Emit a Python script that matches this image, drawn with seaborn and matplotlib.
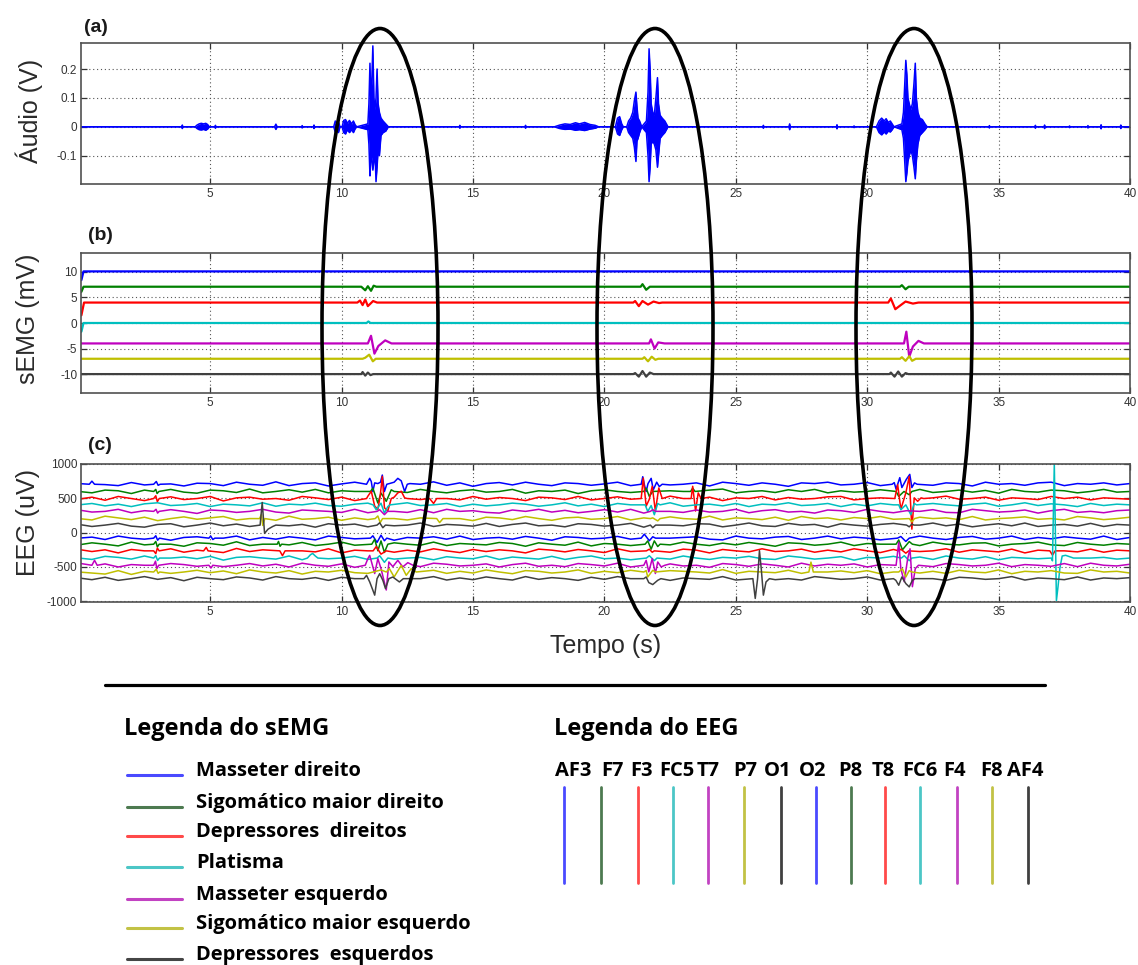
import numpy as np
import pandas as pd
import matplotlib
matplotlib.use("Agg")
import matplotlib.pyplot as plt
from matplotlib.patches import Ellipse
from matplotlib.lines import Line2D
import seaborn as sns

# ---------------------------------------------------------------- data
x_ticks = [5, 10, 15, 20, 25, 30, 35, 40]

# audio envelope bursts: (time s, upper V, lower V)
audio_bursts = [
    [(3.92, 0, 0), (3.94, 0.006, -0.006), (3.96, 0, 0)],
    [(4.43, 0, 0), (4.50, 0.006, -0.006), (4.58, 0.010, -0.010), (4.66, 0.012, -0.011),
     (4.75, 0.010, -0.009), (4.83, 0.012, -0.012), (4.90, 0.008, -0.008), (4.97, 0, 0)],
    [(5.18, 0, 0), (5.20, 0.005, -0.005), (5.22, 0, 0)],
    [(7.45, 0, 0), (7.50, 0.009, -0.009), (7.55, 0, 0)],
    [(8.48, 0, 0), (8.50, 0.004, -0.004), (8.52, 0, 0)],
    [(8.93, 0, 0), (8.95, 0.006, -0.006), (8.97, 0, 0)],
    [(9.70, 0, 0), (9.76, 0.020, -0.018), (9.82, 0.012, -0.010), (9.88, 0.018, -0.020), (9.94, 0, 0)],
    [(10.02, 0, 0), (10.08, 0.022, -0.020), (10.15, 0.025, -0.025), (10.22, 0.012, -0.010),
     (10.30, 0.022, -0.020), (10.38, 0.010, -0.010), (10.45, 0.020, -0.020), (10.52, 0.006, -0.006),
     (10.58, 0, 0)],
    [(11.00, 0.010, -0.010), (11.04, 0.080, -0.060), (11.08, 0.220, -0.170), (11.11, 0.100, -0.120),
     (11.15, 0.160, -0.100), (11.19, 0.280, -0.150), (11.23, 0.100, -0.120), (11.27, 0.060, -0.080),
     (11.31, 0.100, -0.190), (11.35, 0.200, -0.140), (11.39, 0.080, -0.080), (11.44, 0.050, -0.100),
     (11.50, 0.030, -0.030), (11.58, 0.020, -0.020), (11.68, 0.010, -0.015), (11.78, 0, 0)],
    [(14.48, 0, 0), (14.50, 0.005, -0.005), (14.52, 0, 0)],
    [(16.98, 0, 0), (17.00, 0.005, -0.005), (17.02, 0, 0)],
    [(18.10, 0, 0), (18.30, 0.006, -0.006), (18.50, 0.010, -0.009), (18.70, 0.008, -0.008),
     (18.90, 0.014, -0.012), (19.05, 0.010, -0.010), (19.25, 0.015, -0.013), (19.45, 0.008, -0.008),
     (19.65, 0.005, -0.005), (19.78, 0, 0)],
    [(20.42, 0, 0), (20.50, 0.030, -0.025), (20.58, 0.035, -0.030), (20.66, 0.010, -0.010), (20.72, 0, 0)],
    [(20.85, 0, 0), (20.92, 0.020, -0.020), (21.00, 0.030, -0.030), (21.08, 0.050, -0.040),
     (21.14, 0.090, -0.070), (21.20, 0.120, -0.120), (21.24, 0.070, -0.050), (21.28, 0.030, -0.040),
     (21.34, 0.020, -0.020), (21.42, 0, 0)],
    [(21.60, 0.020, -0.020), (21.66, 0.120, -0.100), (21.70, 0.270, -0.190), (21.74, 0.200, -0.140),
     (21.78, 0.080, -0.060), (21.84, 0.050, -0.050), (21.90, 0.040, -0.060), (21.96, 0.100, -0.080),
     (22.02, 0.170, -0.140), (22.06, 0.080, -0.100), (22.12, 0.040, -0.040), (22.20, 0.030, -0.030),
     (22.30, 0.020, -0.020), (22.42, 0, 0)],
    [(26.03, 0, 0), (26.05, 0.005, -0.005), (26.07, 0, 0)],
    [(27.02, 0, 0), (27.05, 0.010, -0.010), (27.08, 0, 0)],
    [(28.83, 0, 0), (28.85, 0.007, -0.007), (28.87, 0, 0)],
    [(29.48, 0, 0), (29.50, 0.003, -0.003), (29.52, 0, 0)],
    [(30.35, 0, 0), (30.45, 0.020, -0.020), (30.55, 0.030, -0.028), (30.65, 0.020, -0.018),
     (30.72, 0.028, -0.025), (30.80, 0.015, -0.015), (30.88, 0.020, -0.018), (30.95, 0.010, -0.010),
     (31.02, 0, 0)],
    [(31.32, 0.010, -0.010), (31.38, 0.050, -0.040), (31.43, 0.150, -0.120), (31.47, 0.230, -0.190),
     (31.51, 0.180, -0.160), (31.55, 0.100, -0.120), (31.60, 0.080, -0.100), (31.66, 0.060, -0.080),
     (31.72, 0.080, -0.100), (31.78, 0.150, -0.140), (31.83, 0.220, -0.180), (31.87, 0.100, -0.120),
     (31.93, 0.050, -0.060), (32.00, 0.030, -0.030), (32.10, 0.025, -0.020), (32.20, 0.010, -0.010),
     (32.28, 0, 0)],
    [(34.63, 0, 0), (34.65, 0.004, -0.004), (34.67, 0, 0)],
    [(36.38, 0, 0), (36.40, 0.005, -0.005), (36.42, 0, 0)],
    [(36.73, 0, 0), (36.75, 0.006, -0.006), (36.77, 0, 0)],
    [(37.68, 0, 0), (37.70, 0.003, -0.003), (37.72, 0, 0)],
    [(38.38, 0, 0), (38.40, 0.004, -0.004), (38.42, 0, 0)],
    [(38.88, 0, 0), (38.90, 0.007, -0.007), (38.92, 0, 0)],
    [(39.63, 0, 0), (39.65, 0.006, -0.006), (39.67, 0, 0)],
]

# sEMG channels (mV): names, colours, baselines and excursions (time s, deviation mV)
emg_names = ["Masseter direito", "Sigomático maior direito", "Depressores  direitos", "Platisma",
             "Masseter esquerdo", "Sigomático maior esquerdo", "Depressores  esquerdos"]
emg_colors = ["#0000ff", "#008000", "#ff0000", "#00bfbf", "#bf00bf", "#bfbf00", "#404040"]
emg_legend_colors = ["#4a4aff", "#4d7a50", "#ff4a4a", "#4cc6c6", "#c243c2", "#c2c245", "#454545"]
emg_base = [10.1, 7.1, 4.0, 0.0, -4.0, -7.0, -10.0]
emg_events = [
    [[(0.10, -1.7), (0.18, 0)]],
    [[(0.10, -1.0), (0.18, 0)],
     [(10.75, 0), (10.90, -0.7), (11.00, 0.1), (11.12, -0.8), (11.22, 0.2), (11.32, 0)],
     [(21.38, 0), (21.45, 0.5), (21.59, -0.6), (21.73, 0)],
     [(31.25, 0), (31.32, 0.3), (31.46, -0.5), (31.58, 0)]],
    [[(0.10, -2.5), (0.20, 0)],
     [(10.60, 0), (10.70, 0.4), (10.80, -0.5), (10.90, 0.6), (11.00, -0.7), (11.10, -0.2), (11.20, 0.3), (11.35, 0)],
     [(21.10, 0), (21.17, 0.3), (21.31, -0.7), (21.45, 0.3), (21.66, -0.4), (21.87, 0.2), (22.08, -0.1), (22.20, 0)],
     [(30.80, 0), (30.90, 0.8), (31.07, -1.3), (31.25, -0.6), (31.46, 0.2), (31.74, -0.2), (31.95, 0)]],
    [[(0.10, -1.7), (0.18, 0)],
     [(10.95, 0), (11.02, 0.3), (11.10, 0)]],
    [[(11.00, 0), (11.12, 1.5), (11.25, -2.0), (11.40, -0.5), (11.66, 0.6), (11.90, 0)],
     [(21.70, 0), (21.77, 0.8), (21.91, -1.0), (22.05, 0.2), (22.29, 0)],
     [(31.40, 0), (31.49, 2.3), (31.60, -2.6), (31.74, -0.6), (31.95, 0.5), (32.16, 0)]],
    [[(10.80, 0), (10.90, 0.2), (11.05, 0.8), (11.19, -0.5), (11.30, 0)],
     [(21.45, 0), (21.52, 0.3), (21.66, -0.5), (21.80, 0.4), (21.94, -0.2), (22.05, 0)],
     [(31.25, 0), (31.32, 0.3), (31.46, -0.4), (31.60, 0.5), (31.71, -0.4), (31.85, 0)]],
    [[(10.75, 0), (10.80, 0.4), (10.90, -0.3), (11.00, 0.3), (11.10, -0.2), (11.20, 0)],
     [(21.10, 0), (21.17, 0.2), (21.31, -0.5), (21.45, 0.6), (21.59, -0.5), (21.73, 0.3), (21.87, 0)],
     [(30.85, 0), (30.90, 0.3), (31.04, -0.5), (31.18, 0.5), (31.32, -0.5), (31.46, 0.2), (31.56, 0)]],
]

# EEG channels (uV)
eeg_names = ["AF3", "F7", "F3", "FC5", "T7", "P7", "O1", "O2", "P8", "T8", "FC6", "F4", "F8", "AF4"]
eeg_colors = ["#0000ff", "#008000", "#ff0000", "#00bfbf", "#bf00bf", "#bfbf00", "#404040",
              "#0000ff", "#008000", "#ff0000", "#00bfbf", "#bf00bf", "#bfbf00", "#404040"]
eeg_legend_colors = ["#4a4aff", "#4d7a50", "#ff4a4a", "#4cc6c6", "#c243c2", "#c2c245", "#404040",
                     "#4a4aff", "#4d7a50", "#ff4a4a", "#4cc6c6", "#c243c2", "#c2c245", "#404040"]
eeg_base = [705, 600, 497, 405, 310, 205, 110, -80, -168, -265, -370, -475, -573, -670]

# background activity of each channel, every 0.5 s from 0 to 40 s (uV)
eeg_wiggle = {
    "AF3": [10, 40, -5, -20, 25, -10, 35, 5, -25, 15, 10, -20, 30, 0, -15, 35, -20, 10, 20, -25, 5, 30, -10, 20,
            -20, 10, 0, 35, -15, 20, -30, 10, 25, -10, 30, 0, -20, 20, 10, -15, 5, 30, -20, 10, 35, -10, 0, 20,
            -25, 30, 10, -15, 20, 0, -30, 20, 10, 30, -10, 0, 25, -20, 10, 35, 0, -15, 20, 10, -25, 30, 0, 10,
            -15, 20, 30, -20, 10, 0, 20, -10, 10],
    "F7": [0, -20, 20, 10, -30, 20, 0, 30, -10, -25, 20, 10, -15, 35, -20, 0, 25, -10, 30, -20, 10, 0, -30, 20,
           10, -15, 30, 0, -20, 10, 25, -10, 0, 30, -25, 10, 0, 20, -30, 10, 25, 0, -15, 30, -20, 10, 0, -10, 20,
           35, -20, 0, 10, -15, 25, 0, 30, -20, 10, -10, 0, 25, -20, 10, 30, -15, 0, 20, -10, 15, -25, 30, 0,
           -10, 20, 10, -20, 0, 30, -10, 0],
    "F3": [-10, 20, -25, 30, 0, -30, 10, 25, -15, 0, 30, -35, 10, 20, -10, 0, -25, 30, 10, -15, 20, -30, 0, 35,
           -20, 10, -15, 25, 0, -20, 30, -10, 15, 0, -30, 20, 10, -15, 30, -20, 0, 25, -10, 10, -25, 35, 0, -10,
           20, -30, 10, 0, 30, -20, 15, -10, 0, 25, 30, -20, 0, 10, -15, 20, -30, 10, 35, -10, 0, 20, -25, 10,
           0, -15, 30, 0, 20, -20, 10, 0, -10],
    "FC5": [0, 20, -15, 10, -25, 15, 30, -10, 0, 20, -25, 10, 0, -15, 30, -20, 10, 0, 25, -10, -20, 10, 25, 0,
            -15, 30, -10, 0, 20, -25, 10, -15, 0, 25, 10, -20, 0, 30, -15, 10, -25, 20, 0, -10, 15, 30, -20, 0,
            10, -15, 20, -25, 10, 0, 30, -10, 0, 20, -25, 10, -15, 20, 0, 10, -30, 20, 0, -15, 10, 25, -20, 0,
            30, -10, 15, 0, -25, 20, -10, 10, 0],
    "T7": [20, -10, 0, 30, -20, 10, -15, 25, 0, -30, 20, 10, -15, 0, 30, -10, -25, 20, 10, 0, -15, 30, -20, 10,
           0, -15, 25, -20, 30, 0, 10, -15, -25, 20, 0, 30, -10, 15, -20, 0, 25, -10, 30, -25, 10, 0, -15, 20,
           -10, 0, 30, -20, 10, 25, -10, 0, -25, 20, 10, -15, 30, 0, -20, 10, 0, 25, -15, -20, 30, 10, -10, 0,
           20, -25, 10, 30, -15, 0, -20, 10, 20],
    "P7": [0, -20, 35, 10, -15, 20, -30, 0, 25, -10, 10, 30, -20, 0, 15, -25, 35, -10, 0, 20, -25, 10, -15, 30,
           0, -20, 10, 25, -10, 0, -30, 20, 10, -15, 30, 0, -25, 10, 20, -10, 0, 30, -20, 10, -15, 25, 0, -10,
           35, -20, 10, 0, -15, 20, -25, 30, 0, 10, -20, 15, 0, 30, -10, -25, 20, 0, 10, -15, 30, -20, 0, 10,
           25, -10, 0, -20, 30, 10, -15, 0, 20],
    "O1": [10, -20, 0, 25, -15, -30, 10, 20, -25, 0, 30, -10, 15, -20, 0, 25, -10, 10, -30, 20, 0, 15, -25, 20,
           -10, 0, 30, -20, 10, 0, -15, 25, -20, 10, 30, -10, 0, -25, 20, 10, -15, 0, 25, -30, 10, 0, -10, 20,
           15, -25, 0, 30, -10, -20, 25, 0, 10, -30, 20, 0, -15, 10, 25, -20, 0, 30, -10, 15, -25, 0, 20, -10,
           30, -20, 0, 10, -15, 25, -20, 10, 0],
    "O2": [0, 15, -20, 30, 0, -15, 25, -30, 10, 20, -10, 0, 30, -25, 10, -15, 20, 0, -25, 30, 10, -10, 0, 25,
           -30, 10, 0, 20, -15, 30, -20, 0, 10, -15, 25, 0, -30, 20, 10, -10, 0, 25, -15, 30, -20, 0, 10, 20,
           -15, -25, 30, 0, -10, 15, 25, -20, 0, 30, -10, 15, 0, -25, 20, -10, 30, 0, -20, 10, 25, -15, 0, 30,
           -20, 10, -10, 20, 0, -15, 30, -20, 10],
    "P8": [-10, 20, 0, -25, 30, -10, 15, 0, -30, 20, 10, -15, 35, -20, 0, 15, -10, 25, -20, 0, 30, -15, 10, -25,
           20, 0, -15, 30, -20, 10, 0, -10, 25, 10, -30, 20, 0, -15, 30, -25, 10, 0, -20, 25, 10, -10, 30, 0,
           -20, 15, -10, 25, 0, -30, 20, 10, -15, 0, 30, -20, 10, 0, -15, 25, -20, 30, 0, -10, 15, 20, -25, 0,
           10, 30, -10, -20, 25, 0, -15, 10, 0],
    "T8": [20, -10, 15, -30, 20, 0, -15, 30, -20, 10, 0, -25, 35, -10, 15, -20, 25, 0, -15, 30, -30, 10, 0, 25,
           -20, 10, -15, 30, 0, -25, 20, -10, 15, 0, -30, 25, 10, -15, 20, 0, -25, 30, -10, 15, 0, -20, 25, 10,
           -30, 20, 0, -15, 30, -10, 0, 25, -20, 10, -15, 30, 0, -25, 20, 10, -10, 0, 30, -20, 15, 0, -15, 25,
           -30, 10, 20, 0, -15, 25, -20, 10, 0],
    "FC6": [0, -20, 25, 10, -15, 30, -20, 0, 15, -10, 25, -30, 10, 20, 0, -15, 30, -25, 10, -10, 0, 25, -20, 30,
            -15, 0, 10, -25, 20, 0, -10, 30, -20, 15, 0, -15, 25, -20, 10, 30, -10, 0, -25, 20, 10, -15, 30, 0,
            -20, 10, 0, 25, -10, -20, 30, 10, -15, 0, 20, -30, 10, 0, 25, -10, 15, -20, 30, 0, -15, 20, -25, 10,
            0, -10, 25, 30, -20, 0, 10, -15, 0],
    "F4": [30, -10, 20, -25, 10, 0, -30, 25, 10, -15, 30, -20, 0, 25, -10, 15, -25, 30, 0, -15, 20, -30, 10, 0,
           25, -10, -20, 30, 15, -10, 0, 20, -25, 10, 30, -15, 0, -20, 25, 10, -10, 30, -25, 0, 15, 20, -10, 0,
           -30, 25, 10, -15, 20, 0, -25, 30, -10, 15, 0, 20, -25, 10, 30, -15, 0, -20, 25, 10, -10, 0, 30, -20,
           10, 0, -15, 25, -20, 30, 0, -10, 15],
    "F8": [0, -15, -30, 20, -35, 10, 30, -20, 0, 25, -10, 15, -25, 30, 0, -15, 20, -30, 10, 0, 25, -10, -20, 30,
           -15, 10, 0, 25, -20, 10, -15, 30, 0, -25, 20, 10, -15, 0, 30, -20, 10, -10, 25, 0, -30, 20, 10, 0,
           -15, 35, -20, 10, 0, -10, 25, -20, 30, 0, 15, -10, 20, -25, 0, 30, -15, 10, -20, 25, 0, -10, 30, -25,
           10, 0, 20, -15, -20, 30, 0, 10, -15],
    "AF4": [10, -15, 20, -25, 0, 30, -10, 15, -30, 20, 0, -15, 25, 10, -20, 30, 0, -10, 15, -25, 20, 0, -30, 10,
            25, -10, 0, 30, -20, 10, -15, 25, 0, -20, 30, -10, 15, 0, -25, 20, -10, 30, 0, -15, 20, -25, 10, 0,
            -10, 30, -20, 10, 25, -15, 0, -20, 30, 10, -10, 0, 25, -20, 10, -15, 30, 0, -25, 20, 10, -10, 0, 30,
            -20, 10, 0, -15, 25, -20, 10, 0, 15],
}

# transient events of each EEG channel: runs of (time s, deviation uV)
eeg_events = {
    "AF3": [[(0.40, 0), (0.50, 45), (0.60, 0)],
            [(2.85, 0), (2.95, 40), (3.02, -15), (3.10, 0)],
            [(10.95, 0), (11.07, 86), (11.13, 40), (11.19, -106), (11.26, 20), (11.38, 10), (11.48, 30),
             (11.55, 134), (11.63, -106), (11.72, 0), (11.82, 10), (12.00, 30), (12.14, 86), (12.27, 50),
             (12.40, -106), (12.50, 0), (12.60, 10)],
            [(21.40, 0), (21.46, 110), (21.53, -20), (21.59, -106), (21.66, 10), (21.78, 86), (21.86, -82),
             (21.99, 30), (22.09, -34), (22.20, 0)],
            [(30.95, 0), (31.03, 24), (31.10, -72), (31.24, 96), (31.32, -48), (31.49, 72), (31.62, 144),
             (31.70, -48), (31.80, 20), (31.90, 0)]],
    "F7": [[(2.85, 0), (2.93, 30), (2.98, -30), (3.05, 0)],
           [(11.10, 0), (11.19, 48), (11.38, -168), (11.50, -24), (11.70, -144), (11.89, 24), (12.00, 0)],
           [(21.50, 0), (21.59, 48), (21.71, -72), (21.84, 0)],
           [(23.28, 0), (23.36, 48), (23.45, 0)],
           [(31.10, 0), (31.20, -72), (31.40, 0), (31.60, -48), (31.70, 0)]],
    "F3": [[(2.85, 0), (2.93, 40), (2.99, -45), (3.06, 0)],
           [(10.95, 0), (11.00, 34), (11.13, 106), (11.26, -110), (11.38, -158), (11.47, 40), (11.55, 322),
            (11.63, -134), (11.76, -182), (11.89, 0), (12.00, 20), (12.14, 82), (12.27, 106), (12.40, 10),
            (12.50, 0)],
           [(13.35, 0), (13.50, -72), (13.62, 0)],
           [(21.40, 0), (21.48, 298), (21.59, -110), (21.71, -10), (21.82, 178), (21.94, -182), (22.07, 154),
            (22.20, 0)],
           [(23.30, 0), (23.36, 178), (23.47, -182), (23.57, 82), (23.68, 0)],
           [(31.05, 0), (31.16, 202), (31.28, -158), (31.47, 82), (31.60, 322), (31.70, -446), (31.79, 10),
            (31.92, -40), (32.05, 10), (32.15, 0)]],
    "FC5": [[(11.20, 0), (11.32, -72), (11.50, 24), (11.63, -120), (11.76, -24), (11.85, 0)],
            [(21.55, 0), (21.65, -96), (21.78, -10), (21.90, -144), (22.03, 20), (22.12, 0)],
            [(31.20, 0), (31.28, -72), (31.47, 0), (31.66, -144), (31.79, 20), (31.88, 0)]],
    "T7": [[(2.85, 0), (2.94, 30), (3.00, -25), (3.06, 0)],
           [(11.35, 0), (11.45, 24), (11.63, -48), (11.75, 0)],
           [(21.75, 0), (21.84, 24), (21.95, 0)]],
    "P7": [[(6.88, 0), (6.95, 60), (7.00, -100), (7.08, 0)],
           [(11.28, 0), (11.38, 38), (11.47, -58), (11.56, 0)],
           [(13.62, 0), (13.73, -58), (13.86, 0)],
           [(21.75, 0), (21.84, 10), (22.03, -34), (22.12, 0)],
           [(31.60, 0), (31.70, -48), (31.80, 0)]],
    "O1": [[(6.90, 0), (6.98, 330), (7.07, -120), (7.20, -60), (7.38, -20), (7.50, 0)],
           [(11.35, 0), (11.45, 34), (11.57, -38), (11.67, 0)],
           [(21.75, 0), (21.84, -38), (21.95, 0)],
           [(31.50, 0), (31.60, -25), (31.70, 15), (31.78, 0)]],
    "O2": [[(2.85, 0), (2.93, 35), (3.00, -30), (3.07, 0)],
           [(4.95, 0), (5.02, 30), (5.10, -20), (5.18, 0)],
           [(11.10, 0), (11.19, 34), (11.35, -62), (11.50, 43), (11.63, -38), (11.72, 0)],
           [(21.40, 0), (21.52, 58), (21.71, -38), (21.84, 20), (21.95, 0)],
           [(31.15, 0), (31.28, 24), (31.47, -48), (31.60, 0)]],
    "P8": [[(2.85, 0), (2.93, 40), (2.99, -40), (3.06, 0)],
           [(7.55, 0), (7.60, 40), (7.66, -30), (7.72, 0)],
           [(11.15, 0), (11.26, 72), (11.38, -96), (11.50, 48), (11.63, -120), (11.76, 0)],
           [(21.55, 0), (21.65, 48), (21.78, -72), (21.90, 48), (22.03, -34), (22.12, 0)],
           [(31.10, 0), (31.20, 62), (31.34, -82), (31.60, 38), (31.72, 0)]],
    "T8": [[(2.85, 0), (2.93, -40), (2.99, 40), (3.06, 0)],
           [(4.75, 0), (4.85, 50), (4.92, 0)],
           [(7.65, 0), (7.75, -70), (7.85, 0)],
           [(11.20, 0), (11.32, 62), (11.50, -48), (11.70, 0)],
           [(21.60, 0), (21.71, 24), (21.82, -20), (21.90, 0)],
           [(31.20, 0), (31.28, 24), (31.47, -34), (31.58, 0)],
           [(36.95, 0), (37.05, -62), (37.15, 0)]],
    "FC6": [[(2.85, 0), (2.93, 35), (3.00, -35), (3.07, 0)],
            [(8.70, 0), (8.82, 50), (8.90, 67), (9.00, 30), (9.10, 0)],
            [(11.35, 0), (11.45, 34), (11.63, -62), (11.76, 0)],
            [(21.60, 0), (21.71, 34), (21.90, -38), (22.00, 0)],
            [(31.30, 0), (31.41, 34), (31.60, -38), (31.70, 0)],
            [(37.00, 0), (37.05, -40), (37.12, 1380), (37.16, 400), (37.20, -620), (37.26, -420),
             (37.33, -150), (37.42, 30), (37.55, 40), (37.70, 20), (37.85, 0)]],
    "F4": [[(0.50, 0), (0.60, 72), (0.70, 0)],
           [(2.85, 0), (2.92, 60), (2.97, -50), (3.04, 0)],
           [(4.95, 0), (5.03, -40), (5.10, 0)],
           [(10.90, 0), (11.00, 96), (11.07, 144), (11.26, -120), (11.38, 96), (11.50, -48), (11.70, -360),
            (11.80, 48), (11.95, -20), (12.14, 72), (12.33, -24), (12.52, 38), (12.72, 0)],
           [(21.50, 0), (21.59, 72), (21.69, -96), (21.82, 96), (21.94, -120), (22.03, 48), (22.16, -24),
            (22.30, 0)],
           [(31.10, 0), (31.20, 336), (31.28, -48), (31.41, -240), (31.54, 96), (31.63, 240), (31.72, -312),
            (31.83, -48), (31.95, 0)]],
    "F8": [[(2.85, 0), (2.95, 40), (3.02, -20), (3.08, 0)],
           [(11.70, 0), (11.82, 48), (12.00, -72), (12.27, 96), (12.46, -48), (12.65, 48), (12.84, 0)],
           [(21.50, 0), (21.59, 20), (21.65, -72), (21.84, 24), (21.95, 0)],
           [(27.78, 0), (27.86, 144), (27.95, 0)],
           [(31.20, 0), (31.34, 48), (31.47, -72), (31.60, 20), (31.70, 0)]],
    "AF4": [[(10.85, 0), (10.95, 48), (11.07, -48), (11.19, -168), (11.26, -240), (11.35, 0), (11.45, 72),
             (11.57, -24), (11.67, -144), (11.80, 0), (11.95, 24), (12.20, -48), (12.35, 0)],
            [(21.50, 0), (21.59, 24), (21.69, -58), (21.84, -86), (22.03, -24), (22.15, 0)],
            [(25.65, 0), (25.74, -288), (25.83, 0), (25.90, 408), (25.97, 140), (26.05, -240), (26.15, -48),
             (26.28, 0)],
            [(31.00, 0), (31.09, -24), (31.20, -96), (31.32, 24), (31.47, -72), (31.60, -120), (31.72, -24),
             (31.82, 0)]],
}

# ---------------------------------------------------------------- helpers
W, H = 1138, 965


def fx(px):
    return px / W


def fy(py):
    return 1 - py / H


def build_trace(grid_vals, runs, offset, t0, t1):
    """Merge a regular background series with event runs into one sorted trace."""
    grid_t = np.linspace(t0, t1, len(grid_vals))
    grid_v = np.asarray(grid_vals, dtype=float)
    keep = np.ones(len(grid_t), bool)
    for run in runs:
        a, b = run[0][0], run[-1][0]
        keep &= ~((grid_t > a - 0.2) & (grid_t < b + 0.2))
    pts = list(zip(grid_t[keep], grid_v[keep]))
    for run in runs:
        pts += list(run)
    pts.sort(key=lambda p: p[0])
    t = np.array([p[0] for p in pts])
    v = np.array([p[1] for p in pts]) + offset
    return t, v


# ---------------------------------------------------------------- style
sns.set_style("ticks")
plt.rcParams["font.family"] = ["Liberation Sans", "DejaVu Sans"]
plt.rcParams["axes.unicode_minus"] = False

fig = plt.figure(figsize=(W / 100, H / 100), dpi=100)
LEFT, RIGHT = 81.4, 1130


def make_axes(top, bottom):
    return fig.add_axes([fx(LEFT), fy(bottom), (RIGHT - LEFT) / W, (bottom - top) / H])


def style_axes(ax, ylim, yticks, ylabels):
    ax.set_xlim(0.1, 40)
    ax.set_ylim(*ylim)
    ax.set_xticks(x_ticks)
    ax.set_xticklabels([str(v) for v in x_ticks])
    ax.set_yticks(yticks)
    ax.set_yticklabels(ylabels)
    ax.set_xlabel("")
    ax.set_ylabel("")
    ax.grid(True, linestyle=(0, (1, 2.5)), color="#555555", linewidth=0.8)
    ax.set_axisbelow(True)
    ax.tick_params(direction="in", top=True, right=True, length=4, width=0.9,
                   labelsize=8.5, labelcolor="#333333", color="#333333", pad=3)
    for s in ax.spines.values():
        s.set_color("#505050")
        s.set_linewidth(1.2)


# ---------------------------------------------------------------- (a) audio
ax_a = make_axes(43, 184)
a_t, a_hi, a_lo = [0.1], [0.0], [0.0]
for burst in audio_bursts:
    for t, hi, lo in burst:
        a_t.append(t)
        a_hi.append(hi)
        a_lo.append(lo)
a_t.append(40.0)
a_hi.append(0.0)
a_lo.append(0.0)
ax_a.fill_between(a_t, a_lo, a_hi, color="#0000ff", linewidth=0)
sns.lineplot(x=a_t, y=a_hi, ax=ax_a, color="#0000ff", lw=1.1, estimator=None, sort=False)
sns.lineplot(x=a_t, y=a_lo, ax=ax_a, color="#0000ff", lw=1.1, estimator=None, sort=False)
style_axes(ax_a, (-0.198, 0.29), [-0.1, 0, 0.1, 0.2], ["-0.1", "0", "0.1", "0.2"])

# ---------------------------------------------------------------- (b) sEMG
ax_b = make_axes(253, 393)
rows = []
for name, base, runs in zip(emg_names, emg_base, emg_events):
    t, v = build_trace([0.0, 0.0], runs, base, 0.1, 40.0)
    rows.append(pd.DataFrame({"t": t, "v": v, "ch": name}))
emg_df = pd.concat(rows, ignore_index=True)
sns.lineplot(data=emg_df, x="t", y="v", hue="ch", hue_order=emg_names,
             palette=dict(zip(emg_names, emg_colors)), estimator=None, sort=False,
             lw=1.6, legend=False, ax=ax_b)
style_axes(ax_b, (-13.7, 13.7), [-10, -5, 0, 5, 10], ["-10", "-5", "0", "5", "10"])

# ---------------------------------------------------------------- (c) EEG
ax_c = make_axes(464, 602)
rows = []
for name, base in zip(eeg_names, eeg_base):
    t, v = build_trace(eeg_wiggle[name], eeg_events[name], base, 0.0, 40.0)
    rows.append(pd.DataFrame({"t": t, "v": v, "ch": name}))
eeg_df = pd.concat(rows, ignore_index=True)
sns.lineplot(data=eeg_df, x="t", y="v", hue="ch", hue_order=eeg_names,
             palette=dict(zip(eeg_names, eeg_colors)), estimator=None, sort=False,
             lw=1.1, legend=False, ax=ax_c)
style_axes(ax_c, (-1010, 1000), [-1000, -500, 0, 500, 1000],
           ["-1000", "-500", "0", "500", "1000"])

# ---------------------------------------------------------------- axis titles
label_kw = dict(fontsize=18, color="#2a2a2a", rotation=90, ha="center", va="center")
fig.text(fx(29), fy(111), "Áudio (V)", **label_kw)
fig.text(fx(28), fy(319), "sEMG (mV)", **label_kw)
fig.text(fx(28), fy(522), "EEG (uV)", **label_kw)
fig.text(fx(606), fy(646), "Tempo (s)", fontsize=18, color="#2a2a2a", ha="center", va="center")

panel_kw = dict(fontsize=14, fontweight="bold", color="#1a1a1a", ha="left", va="center")
fig.text(fx(84), fy(27), "(a)", **panel_kw)
fig.text(fx(88), fy(236), "(b)", **panel_kw)
fig.text(fx(88), fy(446), "(c)", **panel_kw)

# ---------------------------------------------------------------- highlighted events
for cx in (380, 655, 914):
    fig.add_artist(Ellipse((fx(cx), fy(327)), width=116 / W, height=597 / H,
                           transform=fig.transFigure, fill=False, ec="black", lw=2.6, zorder=10))

# separator
fig.add_artist(Line2D([fx(105), fx(1045)], [fy(685), fy(685)], transform=fig.transFigure,
                      color="black", lw=2.3))

# ---------------------------------------------------------------- legends
leg_font = dict(family=["Open Sans", "DejaVu Sans"], fontweight="bold", color="black")
fig.text(fx(124), fy(729), "Legenda do sEMG", fontsize=17, ha="left", va="center", **leg_font)
emg_line_y = [775, 807, 836, 867, 899, 928, 959]
for name, col, ly in zip(emg_names, emg_legend_colors, emg_line_y):
    fig.add_artist(Line2D([fx(127), fx(182)], [fy(ly), fy(ly)], transform=fig.transFigure,
                          color=col, lw=2.2))
    fig.text(fx(196), fy(ly - 4), name, fontsize=14.5, ha="left", va="center", **leg_font)

fig.text(fx(554), fy(729), "Legenda do EEG", fontsize=17, ha="left", va="center", **leg_font)
eeg_label_x = [573, 612, 642, 677, 708, 745, 778, 813, 850, 883, 920, 955, 992, 1025]
eeg_line_x = [564, 601, 638, 673, 708, 744, 781, 816, 851, 885, 920, 957, 992, 1028]
for name, col, lx, mx in zip(eeg_names, eeg_legend_colors, eeg_label_x, eeg_line_x):
    fig.text(fx(lx), fy(771), name, fontsize=14.5, ha="center", va="center", **leg_font)
    fig.add_artist(Line2D([fx(mx), fx(mx)], [fy(787), fy(883)], transform=fig.transFigure,
                          color=col, lw=2.0))

fig.savefig("out.png", dpi=100)
